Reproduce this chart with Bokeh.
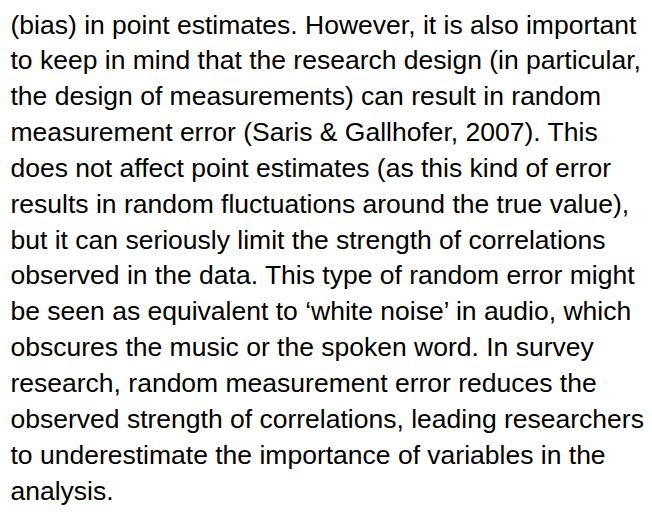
from bokeh.plotting import figure
from bokeh.models import Range1d, ColumnDataSource
from bokeh.core.properties import value
from bokeh.embed import file_html
from bokeh.resources import INLINE

lines = [
    "(bias) in point estimates. However, it is also important",
    "to keep in mind that the research design (in particular,",
    "the design of measurements) can result in random",
    "measurement error (Saris & Gallhofer, 2007). This",
    "does not affect point estimates (as this kind of error",
    "results in random fluctuations around the true value),",
    "but it can seriously limit the strength of correlations",
    "observed in the data. This type of random error might",
    "be seen as equivalent to \u2018white noise\u2019 in audio, which",
    "obscures the music or the spoken word. In survey",
    "research, random measurement error reduces the",
    "observed strength of correlations, leading researchers",
    "to underestimate the importance of variables in the",
    "analysis.",
]
line_index = list(range(len(lines)))

W, H = 652, 517
spacing = 35.85
first_baseline = 24.0

src = ColumnDataSource(dict(x=[10] * len(lines), y=line_index, t=lines))

p = figure(width=W, height=H, output_backend="svg", toolbar_location=None,
           x_range=Range1d(0, W),
           y_range=Range1d((H - first_baseline) / spacing, -first_baseline / spacing),
           min_border=0, outline_line_color=None)
p.axis.visible = False
p.grid.visible = False
p.background_fill_color = "white"
p.border_fill_color = "white"

p.text(x="x", y="y", text="t", source=src,
       text_font=value("Liberation Sans"), text_font_size="26.5px",
       text_color="#000000", text_baseline="alphabetic", text_align="left")

open("out.html", "w").write(file_html(p, INLINE))
